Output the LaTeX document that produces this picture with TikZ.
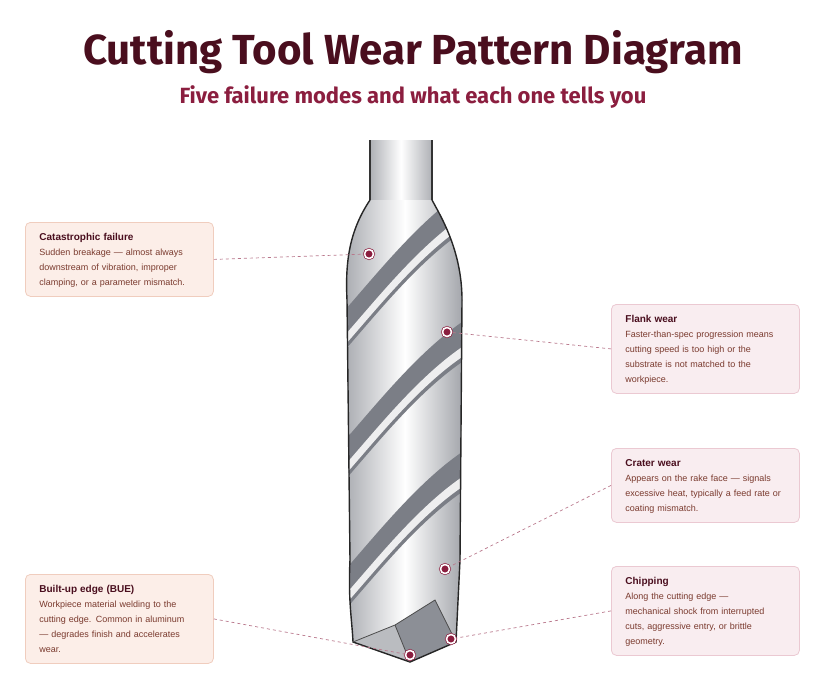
\documentclass[tikz,border=0pt]{standalone}
\usepackage{fontspec}
\setmainfont{Liberation Sans}
\newfontfamily\titlefont{Fira Sans}
\usetikzlibrary{positioning}
\definecolor{maroon}{HTML}{4A0E1E}
\definecolor{berry}{HTML}{8B1E3F}
\definecolor{boxtxt}{HTML}{7A3A2E}
\definecolor{peach}{HTML}{FCEEE8}
\definecolor{peachline}{HTML}{F0CDBE}
\definecolor{rose}{HTML}{F9EDF0}
\definecolor{roseline}{HTML}{EBC9D2}
\definecolor{steel}{HTML}{8C8F96}
\newcommand{\nohyph}{\hyphenpenalty=10000\relax}
\tikzset{
  note/.style={draw=#1line, fill=#1, rounded corners=5pt, line width=0.8pt,
    minimum width=188pt, text width=160pt, inner xsep=10pt, inner ysep=0pt, anchor=north west,
    align=left, font=\fontsize{9}{15}\selectfont\nohyph\color{boxtxt}},
  spot/.style={circle, draw=berry, double=white, double distance=1.6pt, fill=berry,
    line width=0.7pt, minimum size=9pt, inner sep=0pt},
  lead/.style={draw=berry!60, line width=0.7pt, dash pattern=on 3pt off 3pt},
}
\newcommand{\head}[1]{{\fontsize{10}{15}\selectfont\bfseries\color{maroon}#1}\\}
\begin{document}
\begin{tikzpicture}[x=1pt,y=-1pt]
\useasboundingbox (0,0) rectangle (826,693);
% titles
\node[font=\titlefont\bfseries\fontsize{42}{46}\selectfont, text=maroon] (title) at (413,52) {Cutting Tool Wear Pattern Diagram};
\node[font=\titlefont\bfseries\fontsize{22}{26}\selectfont, text=berry] (sub) at (413,97) {Five failure modes and what each one tells you};
% drill
\path[draw=black!80, line width=1.2pt, left color=steel!70, right color=steel!70, middle color=white]
  (370,140) -- (370,205) -- (432,205) -- (432,140);
\begin{scope}
\clip (370,200) .. controls (350,230) and (345,260) .. (347,300)
  -- (350,560) .. controls (348,600) and (352,620) .. (353,642)
  -- (410,662) -- (456,642) -- (460,560) -- (462,300)
  .. controls (462,250) and (440,215) .. (432,200) -- cycle;
\fill[left color=steel!80, right color=steel!90, middle color=white] (340,195) rectangle (470,665);
\foreach \y in {200,330,460} {
  \fill[steel!115] (345,\y+110) .. controls (380,\y+70) and (420,\y+20) .. (465,\y-10)
    -- (465,\y+30) .. controls (420,\y+60) and (380,\y+110) .. (345,\y+150) -- cycle;
  \fill[white!85!steel] (345,\y+135) .. controls (380,\y+95) and (420,\y+45) .. (465,\y+15)
    -- (465,\y+25) .. controls (420,\y+55) and (380,\y+105) .. (345,\y+145) -- cycle;
}
\fill[steel!60] (353,642) -- (395,625) -- (410,662) -- cycle;
\fill[steel!100] (395,625) -- (435,600) -- (456,642) -- (410,662) -- cycle;
\end{scope}
\draw[black!85, line width=1.4pt] (370,200) .. controls (350,230) and (345,260) .. (347,300)
  -- (350,560) .. controls (348,600) and (352,620) .. (353,642)
  -- (410,662) -- (456,642) -- (460,560) -- (462,300)
  .. controls (462,250) and (440,215) .. (432,200);
\draw[black!70, line width=0.8pt] (353,642) -- (395,625) -- (410,662) (395,625) -- (435,600) -- (456,642);
% notes
\node[note=peach] (cat) at (25,222) {\rule{0pt}{18pt}\head{Catastrophic failure}Sudden breakage — almost always downstream of vibration, improper clamping, or a parameter mismatch.\rule[-11pt]{0pt}{11pt}};
\node[note=rose] (flank) at (611,304) {\rule{0pt}{18pt}\head{Flank wear}Faster-than-spec progression means cutting speed is too high or the substrate is not matched to the workpiece.\rule[-11pt]{0pt}{11pt}};
\node[note=rose] (crater) at (611,448) {\rule{0pt}{18pt}\head{Crater wear}Appears on the rake face — signals excessive heat, typically a feed rate or coating mismatch.\rule[-11pt]{0pt}{11pt}};
\node[note=rose] (chip) at (611,566) {\rule{0pt}{18pt}\head{Chipping}Along the cutting edge —\\ mechanical shock from interrupted\\ cuts, aggressive entry, or brittle\\ geometry.\rule[-11pt]{0pt}{11pt}};
\node[note=peach] (bue) at (25,574) {\rule{0pt}{18pt}\head{Built-up edge (BUE)}Workpiece material welding to the\\ cutting edge. Common in aluminum\\ — degrades finish and accelerates\\ wear.\rule[-11pt]{0pt}{11pt}};
% markers
\node[spot] (mcat) at (369,254) {};
\node[spot] (mflank) at (447,332) {};
\node[spot] (mcrater) at (445,569) {};
\node[spot] (mchip) at (451,639) {};
\node[spot] (mbue) at (410,655) {};
% leaders
\draw[lead] (cat.east) -- (mcat);
\draw[lead] (flank.west) -- (mflank);
\draw[lead] (crater.west) -- (mcrater);
\draw[lead] (chip.west) -- (mchip);
\draw[lead] (bue.east) -- (mbue);
\end{tikzpicture}
\end{document}
